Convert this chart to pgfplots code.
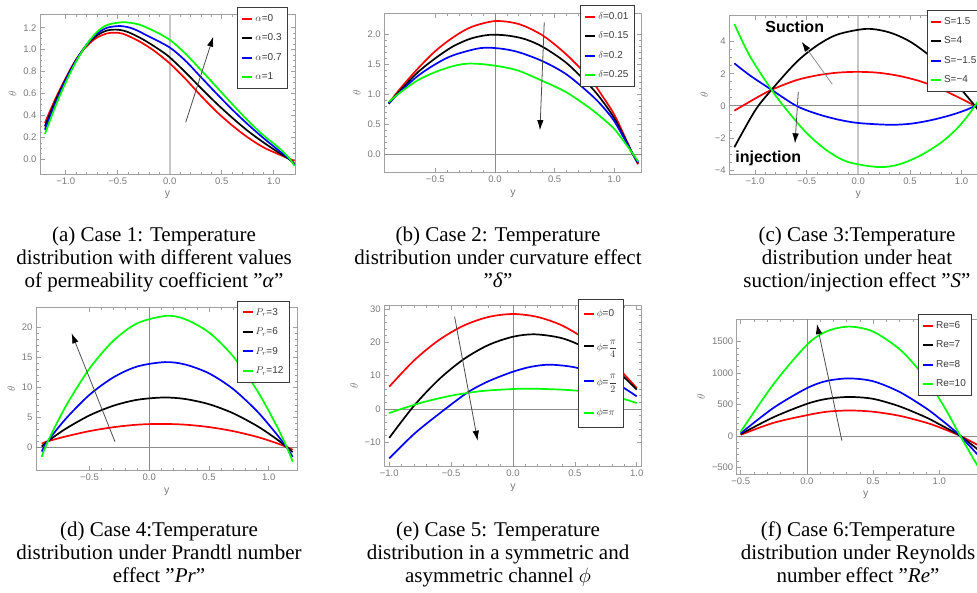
\documentclass[border=0pt]{standalone}
\usepackage{amsmath}
\usepackage{fontspec}
\setmainfont{Liberation Serif}
\newfontfamily\sansf{Liberation Sans}
\usepackage{pgfplots}
\pgfplotsset{compat=1.18}
\usetikzlibrary{arrows.meta}

\definecolor{mred}{rgb}{1,0,0}
\definecolor{mblue}{rgb}{0,0,1}
\definecolor{mgreen}{rgb}{0,1,0}
\definecolor{framegray}{HTML}{A0A0A0}
\definecolor{labgray}{HTML}{7A7A7A}
\definecolor{leggray}{HTML}{3A3A3A}

\pgfplotsset{
  mma/.style={
    scale only axis,
    anchor=north west,
    axis line style={framegray, line width=0.9pt},
    every tick/.style={framegray, line width=0.7pt},
    tick align=inside,
    major tick length=4.5pt,
    minor tick length=2.5pt,
    minor x tick num=4,
    tick label style={font=\sansf\fontsize{9.5}{10}\selectfont, text=labgray},
    xlabel={y}, ylabel={$\theta$},
    label style={font=\sansf\fontsize{10.5}{11}\selectfont, text=labgray},
    legend cell align=left,
    legend style={draw=leggray, line width=0.8pt, fill=white, anchor=north west,
      font=\sansf\fontsize{10}{12}\selectfont, text=leggray,
      row sep=7pt, inner xsep=4pt, inner ysep=5pt},
    legend image code/.code={\draw[##1, line width=2pt] (0pt,0pt) -- (10pt,0pt);},
    every axis plot/.append style={line width=1.7pt, smooth},
  },
}
\tikzset{
  zl/.style={black!45, line width=0.7pt},
  zlv/.style={black!22, line width=1.8pt},
  arr/.style={black!70, line width=0.8pt, -{Latex[length=10pt,width=6.5pt,color=black]}},
}
\newcommand\capfont{\fontsize{21}{23.3}\selectfont}
\newcommand\capt[5]{%
  \node[anchor=base, font=\capfont, inner sep=0pt] at (#1pt,-#2pt) {#3};
  \node[anchor=base, font=\capfont, inner sep=0pt] at ({#1pt},{-(#2pt+23.3pt)}) {#4};
  \node[anchor=base, font=\capfont, inner sep=0pt] at ({#1pt},{-(#2pt+46.6pt)}) {#5};
}

\begin{document}
\begin{tikzpicture}
\useasboundingbox (0pt,0pt) rectangle (977pt,-592pt);
\clip (0pt,0pt) rectangle (977pt,-592pt);

% (a) permeability alpha
\begin{axis}[mma, at={(40pt,-14pt)}, width=255pt, height=160pt,
  xmin=-1.247, xmax=1.205, ymin=-0.134, ymax=1.325,
  xtick={-1,-0.5,0,0.5,1}, xticklabels={−1.0,−0.5,0.0,0.5,1.0},
  ytick={0,0.2,0.4,0.6,0.8,1.0,1.2}, yticklabels={0.0,0.2,0.4,0.6,0.8,1.0,1.2},
  minor y tick num=3,
  legend style={at={(axis description cs:0.7725,1.044)}}]
\draw[zlv] ({axis cs:0,0}|-{rel axis cs:0,0}) -- ({axis cs:0,0}|-{rel axis cs:0,1});
\addplot[mred] coordinates {(-1.2,0.33) (-1.1,0.55) (-1.0,0.74) (-0.9,0.91) (-0.8,1.03) (-0.7,1.11) (-0.6,1.148) (-0.53,1.155) (-0.45,1.145) (-0.3,1.08) (-0.15,0.99) (0,0.875) (0.15,0.735) (0.3,0.58) (0.45,0.435) (0.6,0.31) (0.75,0.2) (0.9,0.11) (1.05,0.045) (1.15,0.005) (1.2,-0.015)};
\addlegendentry{$\alpha$=0}
\addplot[black] coordinates {(-1.2,0.30) (-1.1,0.53) (-1.0,0.73) (-0.9,0.905) (-0.8,1.04) (-0.7,1.13) (-0.6,1.175) (-0.5,1.182) (-0.4,1.16) (-0.25,1.09) (-0.1,1.0) (0,0.93) (0.15,0.795) (0.3,0.65) (0.45,0.51) (0.6,0.38) (0.75,0.26) (0.9,0.155) (1.05,0.06) (1.15,0.0) (1.2,-0.04)};
\addlegendentry{$\alpha$=0.3}
\addplot[mblue] coordinates {(-1.2,0.27) (-1.1,0.51) (-1.0,0.72) (-0.9,0.90) (-0.8,1.045) (-0.7,1.145) (-0.6,1.2) (-0.47,1.215) (-0.35,1.19) (-0.2,1.12) (0,1.02) (0.15,0.9) (0.3,0.75) (0.45,0.6) (0.6,0.455) (0.75,0.32) (0.9,0.195) (1.05,0.08) (1.15,0.005) (1.2,-0.05)};
\addlegendentry{$\alpha$=0.7}
\addplot[mgreen] coordinates {(-1.2,0.23) (-1.1,0.48) (-1.0,0.70) (-0.9,0.89) (-0.8,1.045) (-0.7,1.16) (-0.6,1.225) (-0.45,1.25) (-0.3,1.23) (-0.15,1.17) (0,1.09) (0.15,0.965) (0.3,0.815) (0.45,0.66) (0.6,0.505) (0.75,0.355) (0.9,0.22) (1.05,0.105) (1.15,0.01) (1.2,-0.06)};
\addlegendentry{$\alpha$=1}
\draw[arr] (axis cs:0.154,0.337) -- (axis cs:0.419,1.118);
\end{axis}

% (b) curvature delta
\begin{axis}[mma, at={(384.3pt,-13.3pt)}, width=257.4pt, height=159.4pt,
  xmin=-0.928, xmax=1.23, ymin=-0.31, ymax=2.35,
  xtick={-0.5,0,0.5,1}, xticklabels={−0.5,0.0,0.5,1.0},
  ytick={0,0.5,1,1.5,2}, yticklabels={0.0,0.5,1.0,1.5,2.0},
  minor y tick num=4,
  legend style={at={(axis description cs:0.760,1.052)}}]
\draw[zl] ({axis cs:0,0}|-{rel axis cs:0,0}) -- ({axis cs:0,0}|-{rel axis cs:0,1});
\draw[zl] ({rel axis cs:0,0}|-{axis cs:0,0}) -- ({rel axis cs:1,0}|-{axis cs:0,0});
\addplot[mred] coordinates {(-0.89,0.85) (-0.8,1.08) (-0.65,1.42) (-0.5,1.72) (-0.35,1.95) (-0.2,2.12) (0,2.22) (0.2,2.17) (0.4,1.98) (0.6,1.66) (0.8,1.25) (0.9,0.97) (1.0,0.66) (1.1,0.24) (1.15,0.02) (1.2,-0.17)};
\addlegendentry{$\delta$=0.01}
\addplot[black] coordinates {(-0.89,0.84) (-0.8,1.05) (-0.65,1.36) (-0.5,1.6) (-0.35,1.8) (-0.2,1.93) (-0.05,1.99) (0.1,1.98) (0.25,1.92) (0.4,1.79) (0.6,1.52) (0.8,1.13) (0.9,0.89) (1.0,0.6) (1.1,0.22) (1.15,0.02) (1.2,-0.15)};
\addlegendentry{$\delta$=0.15}
\addplot[mblue] coordinates {(-0.89,0.85) (-0.8,1.03) (-0.65,1.3) (-0.5,1.5) (-0.35,1.65) (-0.12,1.77) (0.05,1.76) (0.2,1.7) (0.4,1.55) (0.6,1.33) (0.8,1.0) (0.9,0.8) (1.0,0.55) (1.1,0.2) (1.15,0.02) (1.2,-0.14)};
\addlegendentry{$\delta$=0.2}
\addplot[mgreen] coordinates {(-0.89,0.87) (-0.8,1.02) (-0.65,1.23) (-0.5,1.37) (-0.35,1.47) (-0.23,1.51) (-0.1,1.5) (0.05,1.46) (0.2,1.39) (0.4,1.22) (0.6,1.03) (0.8,0.76) (0.9,0.6) (1.0,0.42) (1.1,0.16) (1.15,0.02) (1.2,-0.12)};
\addlegendentry{$\delta$=0.25}
\draw[arr] (axis cs:0.413,2.2) -- (axis cs:0.377,0.40);
\end{axis}

% (c) suction / injection S
\begin{axis}[mma, at={(729.3pt,-15.7pt)}, width=258pt, height=158.3pt,
  xmin=-1.249, xmax=1.249, ymin=-4.25, ymax=5.62,
  xtick={-1,-0.5,0,0.5,1}, xticklabels={−1.0,−0.5,0.0,0.5,1.0},
  ytick={-4,-2,0,2,4}, yticklabels={−4,−2,0,2,4},
  minor y tick num=3,
  legend style={at={(axis description cs:0.765,1.036)}, inner xsep=3pt}]
\draw[zlv] ({axis cs:0,0}|-{rel axis cs:0,0}) -- ({axis cs:0,0}|-{rel axis cs:0,1});
\draw[zl] ({rel axis cs:0,0}|-{axis cs:0,0}) -- ({rel axis cs:1,0}|-{axis cs:0,0});
\addplot[mred] coordinates {(-1.2,-0.3) (-1.0,0.45) (-0.84,1.0) (-0.6,1.6) (-0.4,1.9) (-0.2,2.07) (0,2.12) (0.2,2.06) (0.4,1.86) (0.6,1.53) (0.8,1.05) (1.0,0.43) (1.13,0.0) (1.2,-0.25)};
\addlegendentry{S=1.5}
\addplot[black] coordinates {(-1.2,-2.58) (-1.0,-0.3) (-0.84,1.0) (-0.6,2.72) (-0.4,3.76) (-0.2,4.45) (0.08,4.8) (0.3,4.58) (0.5,4.01) (0.7,3.07) (0.9,1.78) (1.0,1.0) (1.13,0.0) (1.2,-0.6)};
\addlegendentry{S=4}
\addplot[mblue] coordinates {(-1.2,2.65) (-1.05,1.9) (-0.84,1.0) (-0.6,0.0) (-0.4,-0.5) (-0.2,-0.85) (0,-1.07) (0.3,-1.18) (0.5,-1.12) (0.7,-0.9) (0.9,-0.57) (1.05,-0.24) (1.13,0.0) (1.2,0.25)};
\addlegendentry{S=−1.5}
\addplot[mgreen] coordinates {(-1.2,5.1) (-1.05,3.1) (-0.84,1.0) (-0.7,-0.2) (-0.5,-1.7) (-0.3,-2.8) (-0.1,-3.5) (0.2,-3.82) (0.4,-3.64) (0.6,-3.1) (0.8,-2.3) (0.95,-1.45) (1.05,-0.7) (1.13,0.0) (1.2,0.7)};
\addlegendentry{S=−4}
\draw[arr, black!45] (axis cs:-0.252,1.35) -- (axis cs:-0.548,3.99);
\draw[arr] (axis cs:-0.581,0.87) -- (axis cs:-0.613,-2.34);
\end{axis}
\node[anchor=base, font=\sansf\bfseries\fontsize{16}{18}\selectfont] at (794.7pt,-32.3pt) {Suction};
\node[anchor=base, font=\sansf\bfseries\fontsize{16}{18}\selectfont] at (768.3pt,-162.3pt) {injection};

% (d) Prandtl number
\begin{axis}[mma, at={(36pt,-307.3pt)}, width=261.7pt, height=163.4pt,
  xmin=-0.948, xmax=1.242, ymin=-3.9, ymax=23.33,
  xtick={-0.5,0,0.5,1}, xticklabels={−0.5,0.0,0.5,1.0},
  ytick={0,5,10,15,20}, yticklabels={0,5,10,15,20},
  minor y tick num=4,
  legend style={at={(axis description cs:0.769,1.040)}}]
\draw[zl] ({axis cs:0,0}|-{rel axis cs:0,0}) -- ({axis cs:0,0}|-{rel axis cs:0,1});
\draw[zl] ({rel axis cs:0,0}|-{axis cs:0,0}) -- ({rel axis cs:1,0}|-{axis cs:0,0});
\addplot[mred] coordinates {(-0.9,0.6) (-0.85,1.0) (-0.7,1.8) (-0.5,2.7) (-0.3,3.35) (-0.1,3.77) (0.1,3.9) (0.3,3.77) (0.5,3.37) (0.7,2.7) (0.9,1.75) (1.05,0.8) (1.15,0.05) (1.2,-0.4)};
\addlegendentry{$P_r$=3}
\addplot[black] coordinates {(-0.9,0.1) (-0.85,1.0) (-0.7,3.08) (-0.5,5.32) (-0.3,6.93) (-0.1,7.92) (0.12,8.3) (0.3,8.05) (0.5,7.18) (0.7,5.69) (0.9,3.58) (1.05,1.59) (1.15,0.05) (1.2,-0.8)};
\addlegendentry{$P_r$=6}
\addplot[mblue] coordinates {(-0.9,-0.7) (-0.85,1.0) (-0.7,4.73) (-0.5,8.75) (-0.3,11.66) (-0.1,13.47) (0.13,14.2) (0.3,13.8) (0.5,12.32) (0.7,9.74) (0.9,6.05) (1.05,2.57) (1.15,0.0) (1.2,-1.6)};
\addlegendentry{$P_r$=9}
\addplot[mgreen] coordinates {(-0.9,-1.6) (-0.85,0.93) (-0.7,6.8) (-0.5,13.13) (-0.3,17.76) (-0.1,20.67) (0.14,21.9) (0.3,21.35) (0.5,19.13) (0.7,15.19) (0.9,9.54) (1.05,4.18) (1.15,0.07) (1.2,-2.4)};
\addlegendentry{$P_r$=12}
\draw[arr] (axis cs:-0.287,0.93) -- (axis cs:-0.65,19.0);
\end{axis}

% (e) symmetric / asymmetric channel phi
\begin{axis}[mma, at={(384.3pt,-305pt)}, width=257.4pt, height=161.7pt,
  xmin=-1.04, xmax=1.04, ymin=-17.3, ymax=31.2,
  xtick={-1,-0.5,0,0.5,1}, xticklabels={−1.0,−0.5,0.0,0.5,1.0},
  ytick={-10,0,10,20,30}, yticklabels={−10,0,10,20,30},
  minor y tick num=4,
  legend style={at={(axis description cs:0.754,1.037)}, row sep=18pt, inner ysep=8pt}]
\draw[zl] ({axis cs:0,0}|-{rel axis cs:0,0}) -- ({axis cs:0,0}|-{rel axis cs:0,1});
\draw[zl] ({rel axis cs:0,0}|-{axis cs:0,0}) -- ({rel axis cs:1,0}|-{axis cs:0,0});
\addplot[mred] coordinates {(-1,6.7) (-0.8,14.55) (-0.6,20.65) (-0.4,25.0) (-0.2,27.6) (0,28.5) (0.2,27.6) (0.4,25.0) (0.6,20.5) (0.8,14.2) (1.0,6.3)};
\addlegendentry{$\phi$=0}
\addplot[black] coordinates {(-1,-8.65) (-0.8,0.98) (-0.6,8.83) (-0.4,14.9) (-0.2,19.18) (0,21.68) (0.18,22.4) (0.4,21.2) (0.6,18.04) (0.8,12.9) (1.0,5.8)};
\addlegendentry{$\phi$=$\dfrac{\pi}{4}$}
\addplot[mblue] coordinates {(-1,-14.8) (-0.8,-7.5) (-0.6,-1.5) (-0.37,4.9) (-0.2,8.3) (0,11.2) (0.15,12.7) (0.3,13.3) (0.5,12.5) (0.7,10.2) (0.85,7.4) (1.0,3.8)};
\addlegendentry{$\phi$=$\dfrac{\pi}{2}$}
\addplot[mgreen] coordinates {(-1,-1.2) (-0.75,1.8) (-0.5,4.0) (-0.25,5.4) (0,6.0) (0.15,6.1) (0.4,5.8) (0.6,5.2) (0.8,4.0) (1.0,1.8)};
\addlegendentry{$\phi$=$\pi$}
\draw[arr] (axis cs:-0.472,27.7) -- (axis cs:-0.286,-9.5);
\end{axis}

% (f) Reynolds number
\begin{axis}[mma, at={(736.7pt,-319.3pt)}, width=258pt, height=155pt,
  xmin=-0.53, xmax=1.418, ymin=-611, ymax=1856,
  xtick={-0.5,0,0.5,1}, xticklabels={−0.5,0.0,0.5,1.0},
  ytick={-500,0,500,1000,1500}, yticklabels={−500,0,500,1000,1500},
  minor y tick num=4,
  legend style={at={(axis description cs:0.7016,1.034)}}]
\draw[zl] ({axis cs:0,0}|-{rel axis cs:0,0}) -- ({axis cs:0,0}|-{rel axis cs:0,1});
\draw[zl] ({rel axis cs:0,0}|-{axis cs:0,0}) -- ({rel axis cs:1,0}|-{axis cs:0,0});
\addplot[mred] coordinates {(-0.5,18) (-0.25,210) (0,330) (0.15,385) (0.32,405) (0.5,385) (0.7,320) (0.9,211) (1.0,138) (1.08,70) (1.158,0) (1.29,-145)};
\addlegendentry{Re=6}
\addplot[black] coordinates {(-0.5,28) (-0.25,300) (0,510) (0.15,590) (0.32,620) (0.5,590) (0.7,470) (0.9,295) (1.0,185) (1.08,95) (1.158,0) (1.29,-215)};
\addlegendentry{Re=7}
\addplot[mblue] coordinates {(-0.5,42) (-0.25,450) (0,760) (0.15,875) (0.32,915) (0.5,870) (0.7,700) (0.9,440) (1.0,280) (1.08,145) (1.158,0) (1.29,-300)};
\addlegendentry{Re=8}
\addplot[mgreen] coordinates {(-0.5,65) (-0.25,830) (0,1450) (0.15,1665) (0.32,1740) (0.5,1660) (0.7,1380) (0.85,1040) (0.95,755) (1.05,415) (1.158,0) (1.29,-480)};
\addlegendentry{Re=10}
\draw[arr] (axis cs:0.264,-75) -- (axis cs:0.0755,1780);
\end{axis}

% captions
\capt{154}{241}{(a) Case 1: Temperature}{distribution with different values}{of permeability coefficient ”\textit{α}”}
\capt{498}{241}{(b) Case 2: Temperature}{distribution under curvature effect}{”\textit{δ}”}
\capt{857}{241}{(c) Case 3:Temperature}{distribution under heat}{suction/injection effect ”\textit{S}”}
\capt{159}{536}{(d) Case 4:Temperature}{distribution under Prandtl number}{effect ”\textit{Pr}”}
\capt{498}{536}{(e) Case 5: Temperature}{distribution in a symmetric and}{asymmetric channel $\phi$}
\capt{858}{536}{(f) Case 6:Temperature}{distribution under Reynolds}{number effect ”\textit{Re}”}
\end{tikzpicture}
\end{document}
